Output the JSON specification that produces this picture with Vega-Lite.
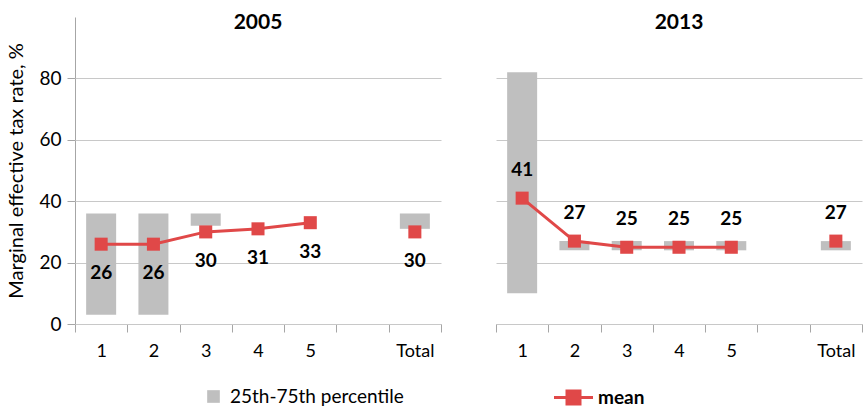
{
  "$schema": "https://vega.github.io/schema/vega-lite/v6.json",
  "padding": {"left": 6, "top": 12, "right": 0, "bottom": 0},
  "background": "white",
  "data": {"values": [
    {"year": "2005", "cat": "1", "q25": 3, "q75": 36, "mean": 26, "grp": "a"},
    {"year": "2005", "cat": "2", "q25": 3, "q75": 36, "mean": 26, "grp": "a"},
    {"year": "2005", "cat": "3", "q25": 32, "q75": 36, "mean": 30, "grp": "a"},
    {"year": "2005", "cat": "4", "q25": null, "q75": null, "mean": 31, "grp": "a"},
    {"year": "2005", "cat": "5", "q25": null, "q75": null, "mean": 33, "grp": "a"},
    {"year": "2005", "cat": "Total", "q25": 31, "q75": 36, "mean": 30, "grp": "b"},
    {"year": "2013", "cat": "1", "q25": 10, "q75": 82, "mean": 41, "grp": "a"},
    {"year": "2013", "cat": "2", "q25": 24, "q75": 27, "mean": 27, "grp": "a"},
    {"year": "2013", "cat": "3", "q25": 24, "q75": 27, "mean": 25, "grp": "a"},
    {"year": "2013", "cat": "4", "q25": 24, "q75": 27, "mean": 25, "grp": "a"},
    {"year": "2013", "cat": "5", "q25": 24, "q75": 27, "mean": 25, "grp": "a"},
    {"year": "2013", "cat": "Total", "q25": 24, "q75": 27, "mean": 27, "grp": "b"}
  ]},
  "facet": {
    "column": {
      "field": "year", "type": "nominal", "title": null,
      "header": {"labelFont": "Lato", "labelFontSize": 21, "labelFontWeight": "bold", "labelColor": "black", "labelPadding": -16}
    }
  },
  "spacing": 55,
  "spec": {
    "width": 366,
    "height": 307,
    "encoding": {
      "x": {
        "field": "cat", "type": "ordinal",
        "scale": {"domain": ["1", "2", "3", "4", "5", " ", "Total"], "paddingInner": 0, "paddingOuter": 0},
        "axis": {"title": null, "labelAngle": 0, "tickBand": "extent", "tickSize": 8, "labelPadding": 10, "labelFont": "Lato", "labelFontSize": 18, "labelColor": "black", "domainColor": "#A6A6A6", "tickColor": "#A6A6A6", "grid": false}
      }
    },
    "layer": [
      {
        "mark": {"type": "bar", "width": 30},
        "encoding": {
          "y": {"field": "q25", "type": "quantitative",
            "scale": {"domain": [0, 100]},
            "axis": {
              "title": "Marginal effective tax rate, %",
              "titleFont": "Lato", "titleFontSize": 20, "titleFontWeight": "normal", "titleColor": "black", "titlePadding": 12,
              "values": [0, 10, 20, 30, 40, 50, 60, 70, 80, 90],
              "labelExpr": "datum.value % 20 === 0 ? datum.label : ''",
              "labelFont": "Lato", "labelFontSize": 19, "labelColor": "black", "labelPadding": 6,
              "tickSize": 8,
              "tickOpacity": {"condition": {"test": "datum.value % 20 === 0", "value": 1}, "value": 0},
              "tickColor": "#A6A6A6", "domainColor": "#A6A6A6",
              "grid": true, "gridColor": "#C8C8C8"
            }
          },
          "y2": {"field": "q75"},
          "fill": {"datum": "25th-75th percentile", "type": "nominal",
            "scale": {"range": ["#BFBFBF"]},
            "legend": {"title": null, "orient": "none", "legendX": 129, "legendY": 370, "symbolType": "square", "symbolSize": 160, "symbolStrokeWidth": 0, "labelFont": "Lato", "labelFontSize": 19, "labelColor": "black", "labelOffset": 7, "labelLimit": 400}
          }
        }
      },
      {
        "mark": {"type": "line", "strokeWidth": 3},
        "encoding": {
          "y": {"field": "mean", "type": "quantitative"},
          "detail": {"field": "grp"},
          "stroke": {"datum": "mean", "type": "nominal",
            "scale": {"range": ["#E04848"]},
            "legend": {"title": null, "orient": "none", "legendX": 484, "legendY": 366,
              "symbolType": "M-1.5,0H1.5M-0.5,-0.5H0.5V0.5H-0.5Z", "symbolSize": 676, "symbolFillColor": "#E04848", "symbolStrokeWidth": 3,
              "labelFont": "Lato", "labelFontSize": 19, "labelFontWeight": "bold", "labelColor": "black", "labelOffset": 10, "labelLimit": 400}
          }
        }
      },
      {
        "mark": {"type": "point", "shape": "square", "filled": true, "size": 170, "color": "#E04848", "opacity": 1},
        "encoding": {
          "y": {"field": "mean", "type": "quantitative"}
        }
      },
      {
        "transform": [{"filter": "datum.year == '2005'"}],
        "mark": {"type": "text", "dy": 29, "font": "Lato", "fontSize": 19, "fontWeight": "bold", "color": "black"},
        "encoding": {
          "y": {"field": "mean", "type": "quantitative"},
          "text": {"field": "mean", "type": "quantitative"}
        }
      },
      {
        "transform": [{"filter": "datum.year == '2013'"}],
        "mark": {"type": "text", "dy": -28, "font": "Lato", "fontSize": 19, "fontWeight": "bold", "color": "black"},
        "encoding": {
          "y": {"field": "mean", "type": "quantitative"},
          "text": {"field": "mean", "type": "quantitative"}
        }
      }
    ]
  },
  "config": {"view": {"stroke": null}}
}
